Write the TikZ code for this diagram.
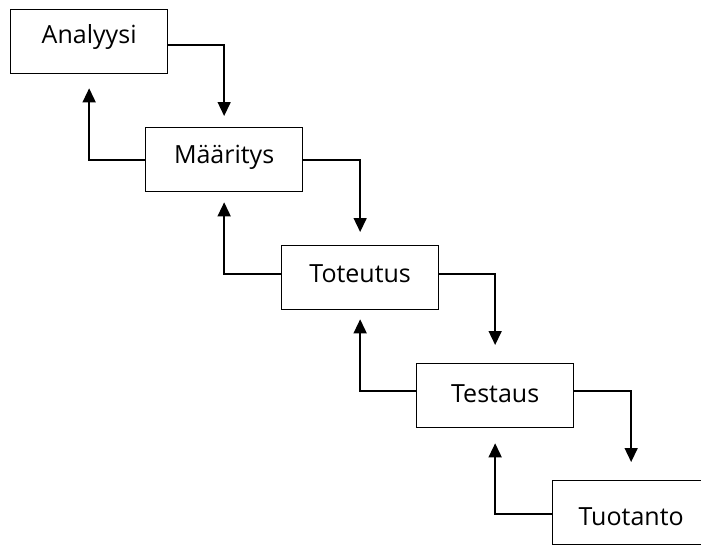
\documentclass[tikz,border=0pt]{standalone}
\usepackage{fontspec}
\setmainfont{Open Sans}
\usetikzlibrary{arrows.meta}

\begin{document}
\begin{tikzpicture}[x=1pt, y=-1pt,
  % process box: #1 = distance from the top edge to the text baseline
  phase/.style={draw=black, line width=1.3pt, fill=white, inner sep=0pt,
    anchor=north west, text width=157pt, align=center,
    text height=#1, text depth=64pt-#1,
    font=\fontsize{25}{30}\selectfont},
  flow/.style={draw=black, line width=1.5pt,
    -{Triangle[width=13pt, length=14pt]}},
]
\clip (0,0) rectangle (701,544);
\fill[white] (0,0) rectangle (701,544);

% phases of the waterfall
\node[phase=34pt] (A)  at (10,9)    {Analyysi};
\node[phase=36pt] (M)  at (145,127) {Määritys};
\node[phase=37pt] (To) at (281,245) {Toteutus};
\node[phase=39pt] (Te) at (416,363) {Testaus};
\node[phase=45pt] (Tu) at (552,480) {Tuotanto};

% heights at which the connectors leave the boxes
\coordinate (pA)  at (0,45);
\coordinate (pM)  at (0,160);
\coordinate (pTo) at (0,274);
\coordinate (pTe) at (0,391);
\coordinate (pTu) at (0,514);

% forward steps
\draw[flow, shorten >=11pt] (A.east |- pA)   -| (M.north);
\draw[flow, shorten >=13pt] (M.east |- pM)   -| (To.north);
\draw[flow, shorten >=18pt] (To.east |- pTo) -| (Te.north);
\draw[flow, shorten >=18pt] (Te.east |- pTe) -| (Tu.north);

% feedback to the previous phase
\draw[flow, shorten >=14pt] (M.west |- pM)   -| (A.south);
\draw[flow, shorten >=10pt] (To.west |- pTo) -| (M.south);
\draw[flow, shorten >=9pt]  (Te.west |- pTe) -| (To.south);
\draw[flow, shorten >=15pt] (Tu.west |- pTu) -| (Te.south);
\end{tikzpicture}
\end{document}
